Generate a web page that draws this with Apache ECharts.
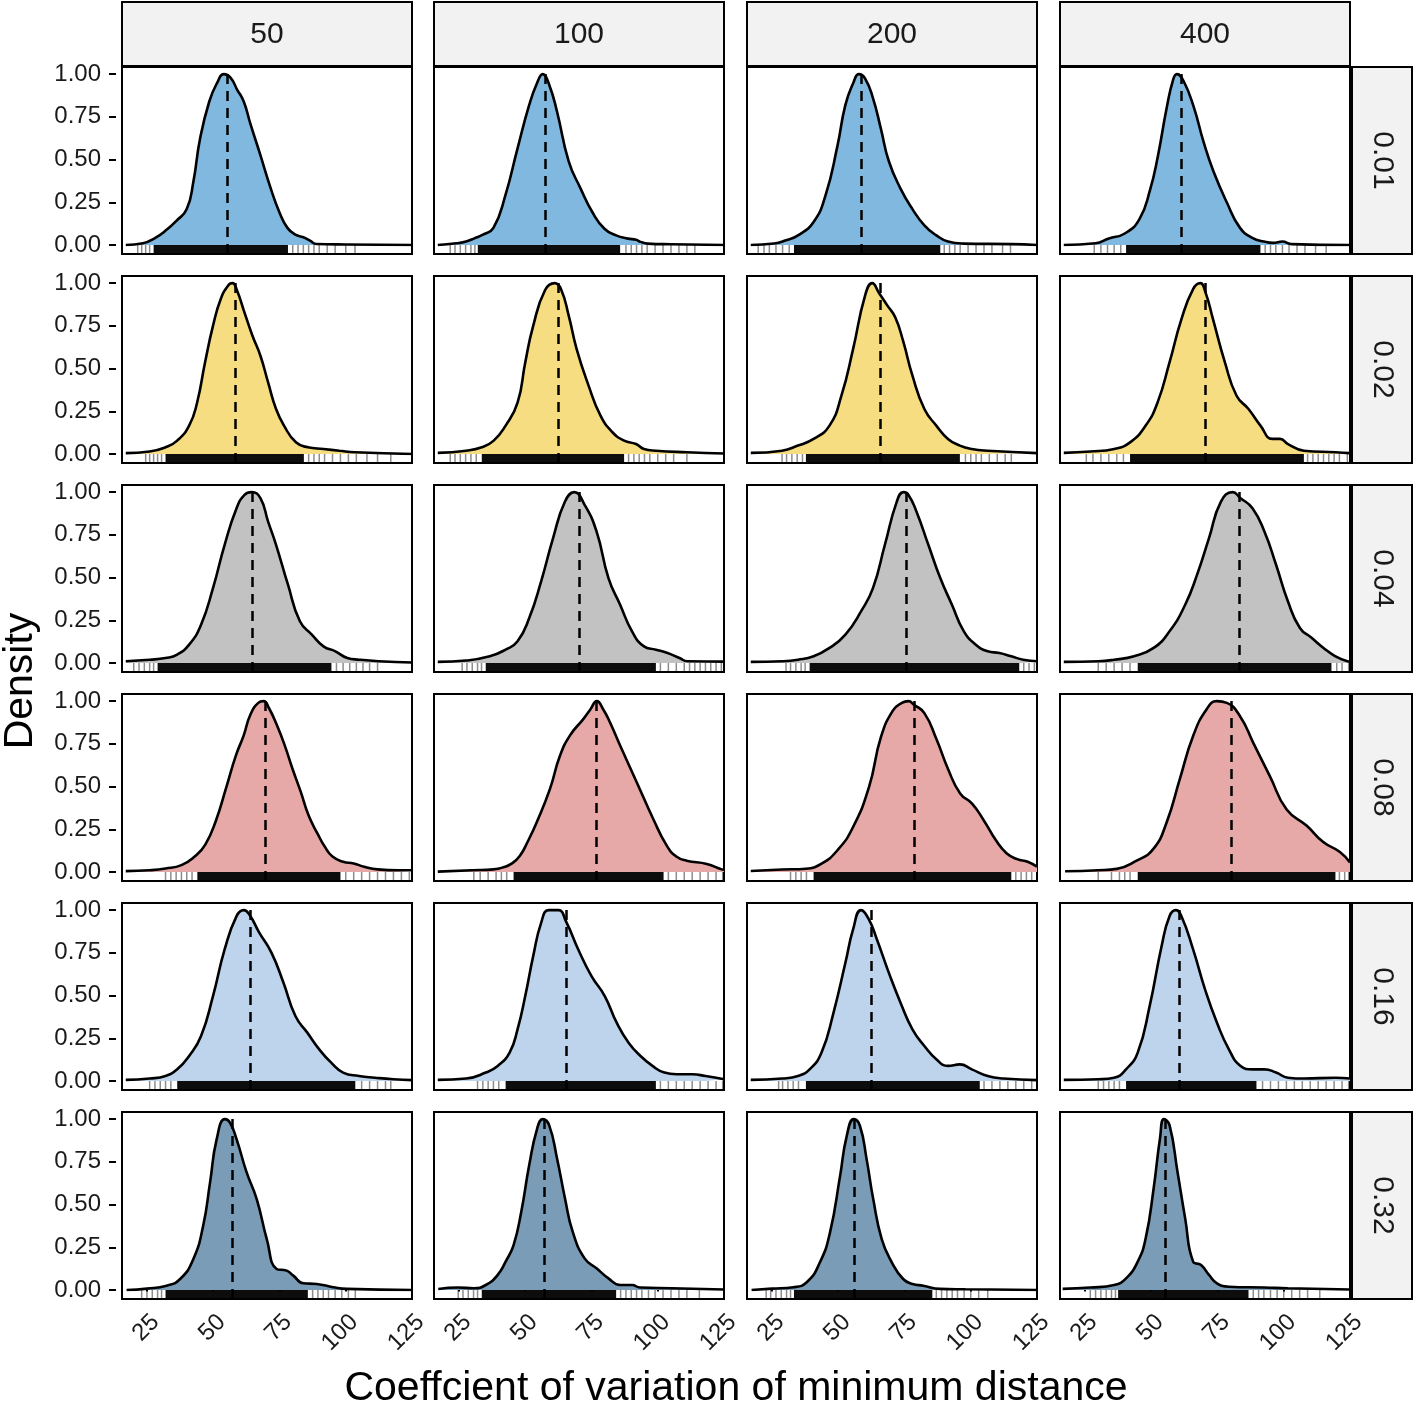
<!DOCTYPE html>
<html><head><meta charset="utf-8">
<script src="https://cdn.jsdelivr.net/npm/echarts@6/dist/echarts.min.js"></script>
<style>html,body{margin:0;padding:0;background:#fff}#c{width:1418px;height:1411px}</style>
</head><body><div id="c"></div>
<script>
// ---------------- DATA ----------------
const colLabels = ['50', '100', '200', '400'];
const rowLabels = ['0.01', '0.02', '0.04', '0.08', '0.16', '0.32'];
const xTicks = [25, 50, 75, 100, 125];
const yTicks = [0, 0.25, 0.5, 0.75, 1];
const xTitle = 'Coeffcient of variation of minimum distance';
const yTitle = 'Density';

// density curves, [x, scaled density] per column (50,100,200,400)
const dens001 = [
  [[17,0],[23.5,0.01],[28,0.04],[32.5,0.09],[36,0.14],[40,0.21],[42.5,0.37],[45,0.62],[48.5,0.84],[51.5,0.95],[54,1.0],[56.5,0.98],[59,0.91],[61.5,0.84],[64,0.71],[67.5,0.54],[71.5,0.34],[75,0.19],[78,0.1],[81,0.06],[84,0.045],[86.5,0.025],[89,0.006],[100,0.003],[125,0]],
  [[17,0],[24,0.01],[27.7,0.02],[31,0.04],[34,0.06],[38,0.1],[42.5,0.29],[47,0.56],[51.5,0.82],[54.5,0.95],[56.6,1.0],[59,0.94],[62,0.78],[66.4,0.49],[70.9,0.33],[75.4,0.19],[79.9,0.095],[84.3,0.056],[88.8,0.037],[91.8,0.03],[93.5,0.018],[96.3,0.008],[105,0.004],[125,0]],
  [[17,0],[25.8,0.008],[30.3,0.027],[34.8,0.056],[40.7,0.135],[45.2,0.29],[49.7,0.58],[52.7,0.82],[55.7,0.95],[57.8,1.0],[60.1,0.975],[63.1,0.86],[66.1,0.68],[69.1,0.49],[73.5,0.33],[78,0.21],[82.5,0.115],[87,0.056],[91.4,0.02],[97.4,0.008],[115,0.005],[125,0]],
  [[17,0],[29,0.01],[34,0.038],[40,0.067],[45.5,0.15],[49.5,0.32],[52.5,0.52],[55.8,0.8],[58.3,0.97],[59.7,1.0],[62.2,0.96],[66,0.81],[69.8,0.6],[73.5,0.43],[78.5,0.25],[83.5,0.1],[88.3,0.04],[92.5,0.02],[96,0.012],[99.5,0.02],[103,0.005],[125,0]]
];
const dens002 = [
  [[17,0.005],[26,0.014],[32,0.039],[36.4,0.078],[40.9,0.166],[43.9,0.3],[46.9,0.536],[49.9,0.75],[52.8,0.906],[55.8,0.99],[57.3,1.0],[58.8,0.965],[61.8,0.828],[64.8,0.692],[67.8,0.575],[70.7,0.419],[73.7,0.263],[76.7,0.166],[81.2,0.068],[85.7,0.039],[91.6,0.029],[97.6,0.019],[103.6,0.01],[125,0]],
  [[17,0.006],[27.7,0.019],[33.6,0.039],[38.1,0.078],[42.6,0.166],[47.1,0.3],[50,0.536],[53,0.75],[57.5,0.96],[61.1,1.0],[63.5,0.965],[66.4,0.81],[69.4,0.614],[73.9,0.4],[78.4,0.224],[82.9,0.127],[87.3,0.078],[91.8,0.058],[94.8,0.029],[99.3,0.019],[111,0.01],[125,0.003]],
  [[17,0.006],[28.8,0.019],[34.8,0.049],[40.7,0.088],[46.7,0.166],[51.2,0.341],[55.6,0.614],[60.1,0.926],[62.8,1.0],[65.5,0.94],[68.5,0.87],[71.5,0.8],[74.5,0.66],[78,0.458],[82.5,0.263],[87,0.166],[91.4,0.088],[95.9,0.049],[100.4,0.029],[106.4,0.019],[125,0.005]],
  [[17,0.006],[27,0.014],[36,0.029],[42,0.068],[47.9,0.166],[52.4,0.302],[56.9,0.536],[61.4,0.789],[65.8,0.965],[68.5,1.0],[70.5,0.945],[73.3,0.789],[77.8,0.536],[82.2,0.341],[86.7,0.263],[91.2,0.166],[95.7,0.088],[98.6,0.088],[101.6,0.058],[107.6,0.019],[119.5,0.01],[125,0.005]]
];
const dens004 = [
  [[17,0.01],[26,0.019],[32,0.029],[36.4,0.049],[40.9,0.107],[45.4,0.224],[49.9,0.438],[54.3,0.692],[58.8,0.906],[61.8,0.984],[64.5,1.0],[67.8,0.965],[70.7,0.828],[73.7,0.692],[78.2,0.458],[82.7,0.244],[87.2,0.166],[91.6,0.097],[96.1,0.068],[100.6,0.029],[105.1,0.019],[112.5,0.01],[125,0.003]],
  [[17,0.006],[27.7,0.014],[36.6,0.039],[42.6,0.078],[47.1,0.127],[51.5,0.263],[56,0.478],[60.5,0.731],[65,0.945],[68.5,1.0],[72.4,0.926],[76.9,0.77],[81.4,0.497],[85.8,0.341],[90.3,0.185],[94.8,0.097],[99.3,0.078],[103.7,0.058],[108.2,0.029],[111.2,0.01],[125,0.008]],
  [[17,0.006],[28.8,0.01],[34.8,0.019],[40.7,0.039],[46.7,0.088],[52.7,0.166],[58.6,0.302],[63.1,0.438],[67.6,0.692],[72.1,0.945],[74.6,1.0],[76.5,0.984],[79.5,0.887],[84,0.692],[88.5,0.497],[92.9,0.341],[97.4,0.185],[101.9,0.107],[106.4,0.068],[110.8,0.058],[115.3,0.039],[119.8,0.019],[125,0.01]],
  [[17,0.006],[30,0.01],[36,0.019],[43.5,0.039],[50.9,0.088],[56.9,0.185],[62.8,0.341],[67.3,0.517],[71.8,0.731],[76.3,0.945],[80.7,1.0],[83.7,0.965],[88.2,0.906],[92.7,0.77],[97.1,0.575],[101.6,0.36],[106.1,0.205],[110.6,0.146],[115,0.088],[119.5,0.039],[124,0.01],[125,0.008]]
];
const dens008 = [
  [[17,0.005],[26,0.01],[32,0.02],[38,0.04],[43,0.09],[47,0.16],[51,0.3],[55,0.5],[58.5,0.68],[61.5,0.8],[64,0.92],[67,0.99],[69,1.0],[71,0.96],[74,0.86],[77,0.74],[80,0.6],[83,0.47],[86,0.33],[89.5,0.22],[92,0.15],[95,0.09],[99,0.06],[103,0.05],[107,0.03],[112,0.015],[120,0.01],[125,0.01]],
  [[17,0.002],[30,0.01],[38,0.015],[41.7,0.027],[45,0.05],[48,0.095],[51,0.18],[54.3,0.29],[59.3,0.485],[63.1,0.68],[66.9,0.8],[71.9,0.895],[74.5,0.95],[77,1.0],[79.5,0.95],[82,0.875],[85.8,0.74],[92.1,0.524],[98.3,0.31],[103.4,0.154],[107,0.09],[110.9,0.066],[118.5,0.047],[124.1,0.015],[125,0.012]],
  [[17,0.006],[28.8,0.014],[37.8,0.019],[43.7,0.049],[49.7,0.127],[55.6,0.263],[61.6,0.497],[66.1,0.789],[70.6,0.945],[74,0.99],[76.5,1.0],[78.5,0.98],[82.5,0.93],[87,0.78],[91.5,0.6],[96,0.46],[100.5,0.4],[105,0.3],[109.5,0.185],[113.5,0.11],[117.5,0.075],[121.5,0.06],[125,0.03]],
  [[17.5,0.004],[30,0.01],[37,0.018],[44.5,0.066],[50.8,0.135],[55.8,0.29],[60.8,0.545],[65.9,0.8],[70.9,0.953],[74.7,1.0],[78.5,0.99],[83.5,0.912],[88.5,0.756],[94.8,0.56],[101.1,0.366],[108.7,0.27],[114.9,0.175],[121.2,0.117],[125,0.055]]
];
const dens016 = [
  [[17,0.006],[26,0.014],[32,0.029],[36.4,0.068],[40.9,0.146],[45.4,0.263],[49.9,0.497],[54.3,0.77],[58.8,0.965],[61.5,1.0],[63.8,0.97],[67.3,0.87],[72,0.75],[76.5,0.575],[81,0.38],[85.5,0.283],[90,0.185],[94.5,0.107],[99,0.049],[105,0.029],[111,0.019],[118,0.01],[125,0.005]],
  [[17,0.006],[27.7,0.014],[35.1,0.049],[39.6,0.088],[44.1,0.166],[47.1,0.302],[50,0.497],[53,0.731],[56,0.926],[58.8,1.0],[62.5,1.0],[65.5,0.93],[70,0.77],[75,0.614],[80,0.497],[84.5,0.341],[89,0.224],[93.5,0.146],[98,0.088],[102.5,0.049],[107,0.039],[113,0.039],[118,0.029],[125,0.01]],
  [[17,0.006],[28.8,0.014],[34.8,0.029],[39.2,0.068],[43.7,0.166],[48.2,0.399],[52.7,0.692],[55.6,0.887],[58.6,1.0],[61.6,0.945],[64.6,0.828],[69.1,0.633],[73.5,0.458],[78,0.302],[82.5,0.205],[87,0.127],[91.4,0.088],[95.9,0.097],[100.4,0.068],[106.4,0.029],[112.3,0.014],[125,0.005]],
  [[17,0.006],[30,0.01],[36,0.019],[40.5,0.068],[44.9,0.166],[49.4,0.438],[53.9,0.789],[56.9,0.965],[59.3,1.0],[61.4,0.965],[65.8,0.77],[70.3,0.536],[74.8,0.341],[79.3,0.185],[83.7,0.088],[88.2,0.068],[92.7,0.068],[97.1,0.049],[101.6,0.019],[107.6,0.014],[119.5,0.019],[125,0.014]]
];
const dens032 = [
  [[17.3,0],[25,0.008],[32.4,0.025],[37.5,0.064],[42.5,0.181],[46.2,0.376],[48.8,0.63],[51.3,0.883],[54.4,1.0],[56.3,0.98],[58.8,0.883],[62.6,0.688],[66.4,0.532],[70.2,0.298],[73.9,0.123],[77.7,0.113],[80.2,0.084],[84,0.039],[89,0.035],[95.3,0.016],[100.4,0.006],[125,0]],
  [[17.2,0.006],[24.7,0.014],[30.6,0.01],[35.1,0.029],[39.6,0.088],[42.6,0.166],[45.6,0.263],[48.5,0.458],[51.5,0.731],[54.5,0.945],[56.6,1.0],[59,0.965],[62,0.77],[65,0.536],[67.9,0.341],[72.4,0.185],[76.9,0.127],[81.4,0.068],[85.8,0.029],[90.3,0.029],[93.3,0.014],[105.2,0.01],[125,0.003]],
  [[17.3,0],[25,0.008],[33,0.016],[38.1,0.045],[43.1,0.162],[46.9,0.337],[50.7,0.668],[53.2,0.901],[55.9,1.0],[58.2,0.96],[60.7,0.766],[63.2,0.532],[66.4,0.298],[70.2,0.162],[74.5,0.064],[78,0.035],[82.1,0.025],[88.4,0.006],[98,0.004],[125,0]],
  [[16.6,0.006],[27,0.014],[36,0.029],[40.5,0.068],[44.9,0.166],[47.9,0.302],[50.9,0.594],[53.3,0.887],[54.8,1.0],[56.9,0.965],[59.9,0.692],[62.8,0.419],[65.8,0.166],[68.8,0.146],[71.8,0.088],[74.8,0.039],[79.3,0.019],[92.7,0.014],[101.6,0.01],[125,0.003]]
];

// medians (dashed lines)
const med001 = [55.2, 57.5, 58.8, 61.5];
const med002 = [58.3, 62.3, 65.8, 70.3];
const med004 = [64.7, 70.2, 75.7, 83.3];
const med008 = [69.5, 76.8, 78.8, 80.1];
const med016 = [64.0, 65.5, 62.4, 60.6];
const med032 = [57.0, 57.0, 56.1, 55.3];

// rug: dense core range and sparse tail ticks
const rugCore001 = [[27.5,78.2],[32.1,85.8],[33.3,88.5],[40.5,91.2]];
const rugCore002 = [[32,84.2],[33.6,87.3],[37.8,95.9],[42,107.6]];
const rugCore004 = [[29,94.6],[35.1,99.3],[39.2,118.3],[44.9,118]];
const rugCore008 = [[44,98],[45.6,102.2],[40.7,115.3],[44.9,119.5]];
const rugCore016 = [[36.4,103.6],[42.6,99.3],[37.8,103.4],[40.5,89.7]];
const rugCore032 = [[32,85.7],[33.6,84.3],[33.3,85.5],[37.5,86.7]];
const rugTail001 = [
  [21.5,23,24.5,26,80,82,84,86,88,90,93,96,100,103.5],
  [21.7,23.5,25.5,27.5,29.5,31,88,90,92,94,96,99,102,105,108,111,114],
  [19.8,22,24,26.5,29,31.5,90,92,94,96,99,102,105,108,112,115],
  [28.5,31,33.5,36,38.5,93,95,97,99.5,102,105,108,112,116]];
const rugTail002 = [
  [24.5,26,27.5,29,30.5,86,88,90,92,95,98,101,104,108,112,117],
  [21.7,23.5,25.5,27.5,29.5,31.5,89,91,93,95,97,100,103,106,111],
  [28.8,30.5,32.5,34.5,36.5,98,100,102,104,107,110,113,115.3],
  [25.5,28,31,34,37,39.5,109,111,113,115,117,119,121,124]];
const rugTail004 = [
  [20,22,24,26,27.5,96.5,99,101.5,104,106.5,109,112],
  [26.2,28,30,32,33.5,101,104,107,110,112,114,116,118,120,122,124],
  [30.3,32,34,36,37.5,120,122,124],
  [30,33,36,39,42,120,122,124.5]];
const rugTail008 = [
  [32,34,36,38,40,42,100,103,106,109,112,115,118,121,124],
  [30.6,33,36,39,41,43,104,107,110,113,116,119,122,124.5],
  [32,34,36,38,117,119,121,123],
  [30,35,38,40,42,121,123,124.5]];
const rugTail016 = [
  [26,28,30,32,34,106,109,112,115,117],
  [32,34,36,38,40,101,104,107,110,113,116,119,122,124.5],
  [27.5,29,31,33,35,105,108,111,114,117,120,123],
  [30,32,34,36,38,92,95,98,101,104,107,110,113,116,119,122,124.5]];
const rugTail032 = [
  [23,25,27,29,30.5,87.5,89.5,91.5,93.5,96,98.5,101,103.6],
  [24.7,26.5,28.5,30.5,32,86,88,90,92,94,96.5,99,102,105,108,111,115.7],
  [22.8,24.5,26.5,28.5,30.5,32,87,89,91,93,95,97.5,100,103,106.4],
  [27,29,31,33,35,36.5,88.5,90.5,92.5,95,97.5,100,103,106,109,113.6]];

// ---------------- STYLE / LAYOUT ----------------
const rowColors = ['#80B8DF', '#F6DD82', '#C2C2C2', '#E6A9A7', '#BDD4EC', '#7B9CB6'];
const densRows = [dens001, dens002, dens004, dens008, dens016, dens032];
const medRows = [med001, med002, med004, med008, med016, med032];
const coreRows = [rugCore001, rugCore002, rugCore004, rugCore008, rugCore016, rugCore032];
const tailRows = [rugTail001, rugTail002, rugTail004, rugTail008, rugTail016, rugTail032];

const FONT = '"Liberation Sans", Arial, Helvetica, sans-serif';
const panelLefts = [122, 434, 747, 1060];
const panelW = 290, panelH = 187;
const panelTops = [67, 276, 485, 694, 903, 1112];
const X_MIN = 15.57, X_MAX = 125, Y_MIN = -0.053, Y_MAX = 1.042;

const grids = [], xAxes = [], yAxes = [], series = [], graphics = [];
let gi = 0;
for (let r = 0; r < 6; r++) {
  for (let c = 0; c < 4; c++) {
    const isBottom = r === 5, isLeft = c === 0;
    grids.push({left: panelLefts[c], top: panelTops[r], width: panelW, height: panelH,
      show: true, borderColor: '#000', borderWidth: 2, backgroundColor: '#fff', containLabel: false});
    xAxes.push({type: 'value', gridIndex: gi, min: X_MIN, max: X_MAX,
      axisLine: {show: false}, splitLine: {show: false},
      axisTick: {show: isBottom, customValues: xTicks, length: 8, lineStyle: {color: '#000', width: 2}},
      axisLabel: {show: isBottom, customValues: xTicks, rotate: 45, fontSize: 24, color: '#1a1a1a',
        fontFamily: FONT, margin: 11, align: 'right', verticalAlign: 'top', formatter: v => String(v)}});
    yAxes.push({type: 'value', gridIndex: gi, min: Y_MIN, max: Y_MAX, offset: 6,
      axisLine: {show: false}, splitLine: {show: false},
      axisTick: {show: isLeft, customValues: yTicks, length: 7, lineStyle: {color: '#000', width: 2}},
      axisLabel: {show: isLeft, customValues: yTicks, fontSize: 24, color: '#1a1a1a', fontFamily: FONT,
        margin: 15, formatter: v => v.toFixed(2)}});
    // rug items: [from, to, y(=0), kind]  kind 2 = white band, 1 = dense core, 0 = single tick
    const rugData = [[X_MIN, X_MAX, 0, 2]];
    const core = coreRows[r][c];
    rugData.push([core[0], core[1], 0, 1]);
    tailRows[r][c].forEach(v => rugData.push([v, v, 0, 0]));
    series.push({type: 'custom', xAxisIndex: gi, yAxisIndex: gi, silent: true, z: 3, clip: false,
      encode: {x: [0, 1], y: 2},
      dimensions: ['from', 'to', 'y', 'kind'],
      data: rugData,
      renderItem: (params, api) => {
        const a = api.coord([api.value(0), Y_MIN]);
        const b = api.coord([api.value(1), Y_MIN]);
        const kind = api.value(3);
        if (kind === 2) {
          return {type: 'rect', shape: {x: a[0] + 1, y: a[1] - 7.6, width: b[0] - a[0] - 2, height: 6.6},
            style: {fill: '#fff'}};
        }
        const isCore = kind === 1;
        const w = isCore ? Math.max(b[0] - a[0], 1) : 1.5;
        return {type: 'rect', shape: {x: a[0] - (isCore ? 0 : 0.75), y: a[1] - 9, width: w, height: 8},
          style: {fill: isCore ? 'rgba(0,0,0,0.95)' : 'rgba(0,0,0,0.45)'}};
      }});
    // density
    series.push({type: 'line', xAxisIndex: gi, yAxisIndex: gi, data: densRows[r][c],
      smooth: 0.5, symbol: 'none', silent: true, z: 2,
      lineStyle: {color: '#000', width: 2.6},
      areaStyle: {color: rowColors[r], opacity: 1, origin: 'auto'},
      markLine: {silent: true, symbol: 'none', animation: false,
        label: {show: false},
        lineStyle: {color: '#000', width: 2.5, type: [10, 7]},
        data: [{xAxis: medRows[r][c]}]}});
    gi++;
  }
}

// facet strips
for (let c = 0; c < 4; c++) {
  graphics.push({type: 'rect', shape: {x: panelLefts[c], y: 2, width: panelW, height: 64},
    style: {fill: '#F2F2F2', stroke: '#000', lineWidth: 2}, silent: true});
  graphics.push({type: 'text', x: panelLefts[c] + panelW / 2, y: 35,
    style: {text: colLabels[c], font: '30px ' + FONT, fill: '#1a1a1a', align: 'center', verticalAlign: 'middle'}, silent: true});
}
for (let r = 0; r < 6; r++) {
  graphics.push({type: 'rect', shape: {x: 1352, y: panelTops[r], width: 60, height: panelH},
    style: {fill: '#F2F2F2', stroke: '#000', lineWidth: 2}, silent: true});
  graphics.push({type: 'text', x: 1382, y: panelTops[r] + panelH / 2, rotation: -Math.PI / 2,
    style: {text: rowLabels[r], font: '30px ' + FONT, fill: '#1a1a1a', align: 'center', verticalAlign: 'middle'}, silent: true});
}
graphics.push({type: 'text', x: 21, y: 681, rotation: Math.PI / 2,
  style: {text: yTitle, font: '41px ' + FONT, fill: '#000', align: 'center', verticalAlign: 'middle'}, silent: true});
graphics.push({type: 'text', x: 736, y: 1389,
  style: {text: xTitle, font: '41px ' + FONT, fill: '#000', align: 'center', verticalAlign: 'middle'}, silent: true});

const chart = echarts.init(document.getElementById('c'), null, {renderer: 'canvas'});
chart.setOption({
  animation: false,
  backgroundColor: '#fff',
  grid: grids, xAxis: xAxes, yAxis: yAxes, series: series, graphic: graphics
});
</script></body></html>
